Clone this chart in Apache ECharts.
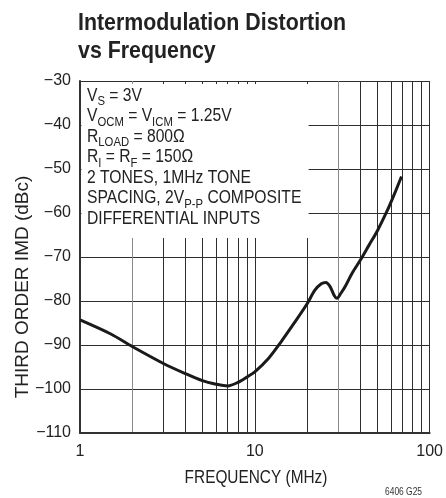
<!DOCTYPE html>
<html><head><meta charset="utf-8">
<script src="https://cdn.jsdelivr.net/npm/echarts@6/dist/echarts.min.js"></script>
<style>html,body{margin:0;padding:0;background:#fff}#c{width:446px;height:498px}</style>
</head><body><div id="c"></div>
<script>
// ---- data ----
const freq = [1, 1.5, 2, 3, 4, 5, 6, 7, 8, 9, 10, 12, 14, 17, 20, 22, 24, 25.5, 27, 28.5, 29.5, 31, 33, 36, 40, 45, 50, 57, 63, 69];
const imd  = [-84.3, -87.5, -90.4, -94.2, -96.5, -98.1, -98.9, -99.3, -98.5, -97.3, -96.1, -93.0, -89.5, -84.7, -80.5, -77.6, -76.1, -75.8, -76.8, -78.8, -79.4, -78.3, -76.6, -73.7, -70.8, -67.3, -64.2, -59.6, -55.6, -51.7];
const xGridValues = [1, 2, 3, 4, 5, 6, 7, 8, 9, 10, 20, 30, 40, 50, 60, 70, 80, 90, 100];
const xLabelValues = [1, 10, 100];
const yMin = -110, yMax = -30, yStep = 10;
const noteBox = { fromX: 1.02, toX: 20.3, fromY: -30.7, toY: -65.7 };
const titleText = 'Intermodulation Distortion\nvs Frequency';
const xName = 'FREQUENCY (MHz)';
const yName = 'THIRD ORDER IMD (dBc)';
const footText = '6406 G25';
const noteLines = [
  '{n|V}{s|S}{n| = 3V}',
  '{n|V}{s|OCM}{n| = V}{s|ICM}{n| = 1.25V}',
  '{n|R}{s|LOAD}{n| = 800\u03A9}',
  '{n|R}{s|I}{n| = R}{s|F}{n| = 150\u03A9}',
  '{n|2 TONES, 1MHz TONE}',
  '{n|SPACING, 2V}{s|P-P}{n| COMPOSITE}',
  '{n|DIFFERENTIAL INPUTS}'
];
// ---- styles ----
const FONT = "'Liberation Sans Narrow', 'Arial Narrow', 'Liberation Sans', Arial, sans-serif";
const gridColors = xGridValues.map(v => (v === 2 || v === 30) ? '#8a8a8a' : '#2e2e2e');
const minus = s => String(s).replace('-', '\u2212');

const chart = echarts.init(document.getElementById('c'), null, { renderer: 'canvas' });
chart.setOption({
  animation: false,
  backgroundColor: '#fff',
  grid: { left: 80, right: 14, top: 81, bottom: 65 },
  xAxis: {
    type: 'log', logBase: 10, min: 1, max: 100,
    axisLine: { show: true, lineStyle: { color: '#333', width: 2 } },
    axisTick: { show: false, customValues: xGridValues },
    axisLabel: { customValues: xLabelValues, fontFamily: FONT, fontSize: 16, color: '#222', margin: 11, formatter: v => String(v) },
    splitLine: { show: true, lineStyle: { color: gridColors, width: 1 } }
  },
  yAxis: {
    type: 'value', min: yMin, max: yMax, interval: yStep,
    axisLine: { show: true, lineStyle: { color: '#333', width: 2 } },
    axisTick: { show: false },
    axisLabel: { fontFamily: FONT, fontSize: 16, color: '#222', margin: 9, formatter: minus },
    splitLine: { show: true, lineStyle: { color: '#2e2e2e', width: 1 } }
  },
  series: [{
    type: 'line',
    data: freq.map((f, i) => [f, imd[i]]),
    smooth: 0.3,
    symbol: 'none',
    lineStyle: { color: '#1a1a1a', width: 3 },
    silent: true,
    markArea: {
      silent: true,
      itemStyle: { color: '#fff', opacity: 1 },
      label: { show: false },
      data: [[{ xAxis: noteBox.fromX, yAxis: noteBox.fromY }, { xAxis: noteBox.toX, yAxis: noteBox.toY }]]
    }
  }],
  graphic: [
    { type: 'text', x: 78, y: 9.5, scaleX: 0.89, z: 100,
      style: { text: titleText, fontFamily: FONT, fontWeight: 'bold', fontSize: 24, lineHeight: 28, fill: '#222', verticalAlign: 'top' } },
    { type: 'text', x: 23, y: 287, rotation: Math.PI / 2, z: 100,
      style: { text: yName, fontFamily: FONT, fontSize: 19, fill: '#222', align: 'center', verticalAlign: 'middle' } },
    { type: 'text', x: 256, y: 478, scaleX: 0.855, z: 100,
      style: { text: xName, fontFamily: FONT, fontSize: 18, fill: '#222', align: 'center', verticalAlign: 'middle' } },
    { type: 'text', x: 87, y: 87, scaleX: 0.87, z: 100,
      style: {
        text: noteLines.join('\n'),
        fontFamily: FONT, fontSize: 18, fill: '#222', lineHeight: 20.5,
        rich: {
          n: { fontFamily: FONT, fontSize: 18, lineHeight: 20.5, verticalAlign: 'top', fill: '#222' },
          s: { fontFamily: FONT, fontSize: 13, lineHeight: 20.5, verticalAlign: 'top', padding: [8, 0, 0, 0], fill: '#222' }
        }
      } },
    { type: 'text', x: 422, y: 492, scaleX: 0.8, z: 100,
      style: { text: footText, fontFamily: FONT, fontSize: 10.5, fill: '#333', align: 'right', verticalAlign: 'middle' } }
  ]
});
</script></body></html>
